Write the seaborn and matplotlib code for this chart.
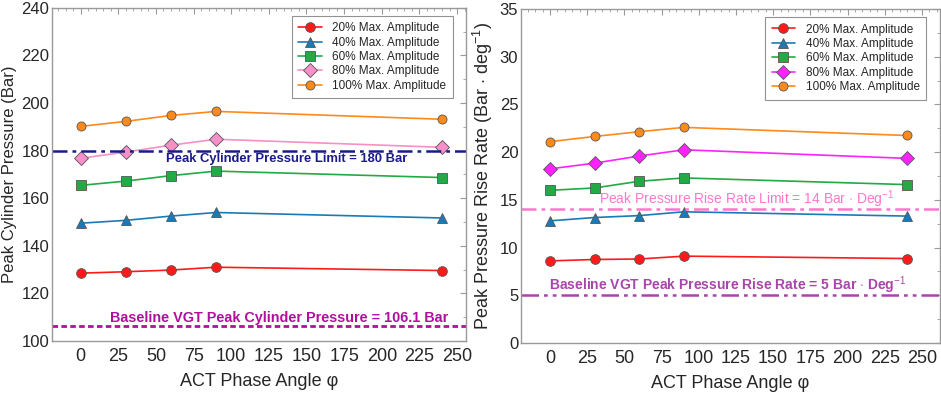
import matplotlib
matplotlib.use("Agg")
import matplotlib.pyplot as plt
import seaborn as sns
import pandas as pd
from matplotlib.ticker import MultipleLocator

sns.set_style("white")
plt.rcParams['font.family'] = ['Liberation Sans', 'DejaVu Sans']
plt.rcParams['mathtext.fontset'] = 'custom'
plt.rcParams['mathtext.rm'] = 'Liberation Sans'

# ACT phase angle (deg)
phase = [0, 30, 60, 90, 240]
labels = ['20% Max. Amplitude', '40% Max. Amplitude', '60% Max. Amplitude',
          '80% Max. Amplitude', '100% Max. Amplitude']

# peak cylinder pressure (bar)
pcp_20 = [128.5, 129.1, 129.8, 131.0, 129.6]
pcp_40 = [149.5, 150.7, 152.5, 154.0, 151.7]
pcp_60 = [165.4, 167.2, 169.5, 171.4, 168.7]
pcp_80 = [176.8, 179.4, 182.3, 184.8, 181.4]
pcp_100 = [190.2, 192.3, 194.8, 196.5, 193.2]

# peak pressure rise rate (bar/deg)
prr_20 = [8.6, 8.75, 8.8, 9.1, 8.85]
prr_40 = [12.8, 13.15, 13.35, 13.75, 13.3]
prr_60 = [16.0, 16.25, 16.95, 17.3, 16.6]
prr_80 = [18.25, 18.85, 19.6, 20.25, 19.35]
prr_100 = [21.1, 21.65, 22.15, 22.6, 21.75]

pcp_limit = 180
pcp_base = 106.1
prr_limit = 14
prr_base = 5

markers = ['o', '^', 's', 'D', 'o']
msizes = [7, 6.5, 6.5, 7, 6.5]
cols_left = ['#ff1a1a', '#1a7ab8', '#22aa44', '#f78fc8', '#ff8a1a']
cols_right = ['#ff1a1a', '#1a7ab8', '#22aa44', '#ff22ff', '#ff8a1a']

fig = plt.figure(figsize=(9.41, 3.96), dpi=100)
ax1 = fig.add_axes([0.0553, 0.139, 0.44, 0.841])
ax2 = fig.add_axes([0.5537, 0.134, 0.445, 0.843])


def draw(ax, series, cols):
    for ys, lab, m, ms, c in zip(series, labels, markers, msizes, cols):
        df = pd.DataFrame({'phase': phase, 'val': ys})
        sns.lineplot(data=df, x='phase', y='val', ax=ax, color=c, marker=m,
                     markersize=ms, markeredgecolor='#555555', markeredgewidth=0.6,
                     linewidth=1.2, label=lab)
    leg = ax.legend(loc='upper right', fontsize=8.5, frameon=True, fancybox=False,
                    edgecolor='#777777', handlelength=2.0, borderpad=0.55,
                    labelspacing=0.2, handletextpad=0.9, borderaxespad=0,
                    bbox_to_anchor=(0.968, 0.976))
    leg.get_frame().set_linewidth(0.8)


def style(ax):
    for s in ax.spines.values():
        s.set_color('#999999')
        s.set_linewidth(1.0)
    ax.xaxis.set_major_locator(MultipleLocator(25))
    ax.xaxis.set_minor_locator(MultipleLocator(5))
    ax.tick_params(which='both', direction='in', top=True, right=True,
                   color='#999999')
    ax.tick_params(which='major', length=4)
    ax.tick_params(which='minor', length=2)
    ax.tick_params(axis='x', pad=5, labelsize=13)
    ax.tick_params(axis='y', pad=2, labelsize=12)
    ax.set_xlabel('ACT Phase Angle φ', fontsize=13, labelpad=6)


draw(ax1, [pcp_20, pcp_40, pcp_60, pcp_80, pcp_100], cols_left)
ax1.axhline(pcp_limit, color='#1a1a8c', linewidth=1.8, dashes=(6, 2, 1.5, 2))
ax1.axhline(pcp_base, color='#b0109b', linewidth=2, dashes=(2, 1.2))
ax1.text(137, 176.6, 'Peak Cylinder Pressure Limit = 180 Bar', color='#1a1a8c',
         fontsize=9.4, fontweight='bold', ha='center', va='center')
ax1.text(132, 109.7, 'Baseline VGT Peak Cylinder Pressure = 106.1 Bar', color='#b0109b',
         fontsize=10.4, fontweight='bold', ha='center', va='center')
ax1.set_xlim(-19, 256)
ax1.set_ylim(100, 240)
ax1.yaxis.set_major_locator(MultipleLocator(20))
ax1.yaxis.set_minor_locator(MultipleLocator(10))
ax1.set_ylabel('Peak Cylinder Pressure (Bar)', fontsize=12, labelpad=3)
style(ax1)

draw(ax2, [prr_20, prr_40, prr_60, prr_80, prr_100], cols_right)
ax2.axhline(prr_limit, color='#ff77cc', linewidth=1.8, dashes=(6, 2, 1.5, 2))
ax2.axhline(prr_base, color='#aa44aa', linewidth=1.8, dashes=(7, 2, 1.5, 2, 1.5, 2))
ax2.text(132, 15.1, 'Peak Pressure Rise Rate Limit = 14 Bar $\\cdot$ Deg$^{-1}$',
         color='#ff77cc', fontsize=10, ha='center', va='center')
ax2.text(119, 6.1, 'Baseline VGT Peak Pressure Rise Rate = 5 Bar $\\cdot$ Deg$^{-1}$',
         color='#aa44aa', fontsize=10, fontweight='bold', ha='center', va='center')
ax2.set_xlim(-19.5, 262)
ax2.set_ylim(0, 35)
ax2.yaxis.set_major_locator(MultipleLocator(5))
ax2.yaxis.set_minor_locator(MultipleLocator(2.5))
ax2.set_ylabel('Peak Pressure Rise Rate (Bar $\\cdot$ deg$^{-1}$)', fontsize=13, labelpad=3)
style(ax2)

fig.savefig('out.png', dpi=100)
